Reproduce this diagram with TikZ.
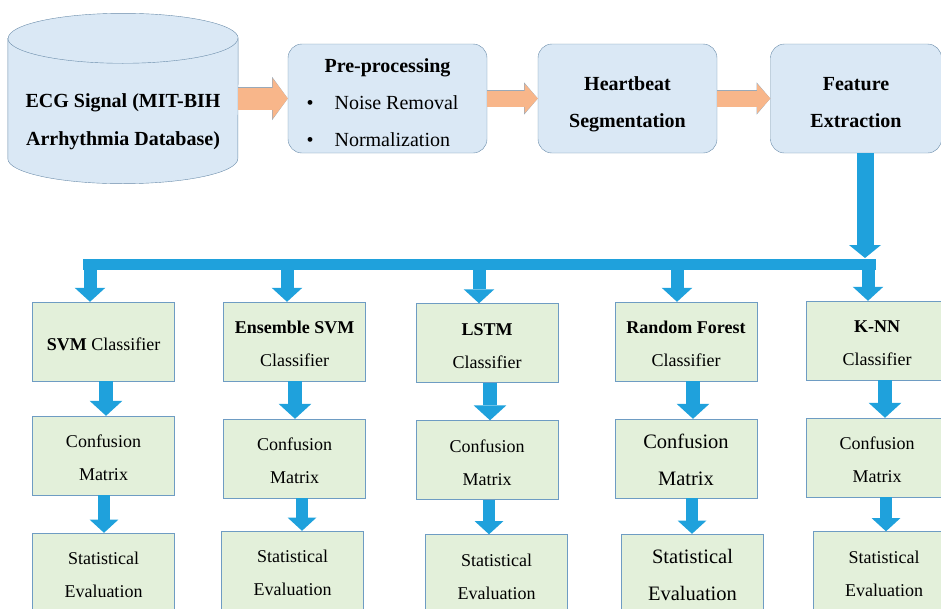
\documentclass[tikz,border=0pt]{standalone}
\usepackage{fontspec}
\setmainfont{Liberation Serif}
\usepackage[dvipsnames]{xcolor}
\usetikzlibrary{arrows.meta,backgrounds}

\definecolor{stagefill}{HTML}{DAE8F5}
\definecolor{stageline}{HTML}{6A8CAA}
\definecolor{clsfill}{HTML}{E3F0DA}
\definecolor{clsline}{HTML}{6E9CC3}
\definecolor{flowfill}{HTML}{F8B68A}
\definecolor{flowline}{HTML}{9AA9B8}
\definecolor{pipeblue}{HTML}{1FA1DC}

\begin{document}
\begin{tikzpicture}[x=1pt, y=-1pt, node distance=117pt,
    stage/.style={draw=stageline, fill=stagefill, rounded corners=14pt, minimum height=109pt, inner ysep=0pt, align=center, font=\fontsize{20}{37}\selectfont},
    clsbox/.style={draw=clsline, fill=clsfill, minimum width=142pt, minimum height=79pt, align=center, font=\fontsize{18}{33}\selectfont, text height=50pt, text depth=0pt},
    big/.style={font=\fontsize{20.5}{37}\selectfont, text height=54pt},
    flow/.style={line width=#1, -{Triangle[width=0pt 1.85, length=8pt 0.33, line width=0pt]}},
    fat/.style={line width=#1, draw=pipeblue, -{Triangle[width=6pt 1.9, length=3pt 0.85, line width=0pt]}}]
                \useasboundingbox (0,0) rectangle (941,608);

                % top row
                \node[minimum width=230pt, minimum height=170pt, label={[yshift=-23.5pt, align=center, font=\bfseries\fontsize{20}{38}\selectfont]center:{ECG Signal (MIT-BIH\\Arrhythmia Database)}}] (1) at (123,98.5) {};
                \node[stage, minimum width=199pt] (2) at (387.5,98.5) {\fontsize{20}{24}\selectfont
                    \raisebox{-2pt}[\height][\depth]{\begin{tabular}{@{}c@{\hspace{21pt}}l@{\hspace{10pt}}}
                    \multicolumn{2}{@{}c@{}}{\rule{0pt}{26pt}\textbf{Pre-processing}} \\[13pt]
                    \textbullet & Noise Removal \\[13pt]
                    \textbullet & Normalization
                \end{tabular}}};
                \node[stage, text height=57pt, text depth=0pt, minimum width=179pt, node distance=240pt, right of=2] (3) {\textbf{Heartbeat}\\\textbf{Segmentation}};
                \node[stage, text height=57pt, text depth=0pt, minimum width=171pt, node distance=228.5pt, right of=3] (4) {\textbf{Feature}\\\textbf{Extraction}};

                \begin{pgfonlayer}{background}
                    \filldraw[draw=stageline, fill=stagefill] ([yshift=-25pt]1.north west) -- ([yshift=25pt]1.south west)
                        arc[start angle=180, end angle=360, x radius=115pt, y radius=25pt]
                        -- ([yshift=-25pt]1.north east)
                        arc[start angle=0, end angle=180, x radius=115pt, y radius=25pt] -- cycle;
                    \draw[stageline] ([yshift=-25pt]1.north west) arc[start angle=180, end angle=360, x radius=115pt, y radius=25pt];
                \end{pgfonlayer}

                % classifiers
                \node[clsbox, text height=17pt] (5) at (103.5,341.5) {\textbf{SVM} Classifier};
                \node[clsbox, node distance=191pt, right of=5] (6) {\textbf{Ensemble SVM}\\Classifier};
                \node[clsbox, node distance=192.5pt, right of=6, yshift=-1.5pt] (7) {\textbf{LSTM}\\Classifier};
                \node[clsbox, node distance=199pt, right of=7, yshift=1.5pt] (8) {\textbf{Random Forest}\\Classifier};
                \node[clsbox, node distance=191pt, right of=8, yshift=1pt] (9) {\textbf{K-NN}\\Classifier};

                \node[clsbox, node distance=114pt, below of=5] (10) {Confusion\\Matrix};
                \node[clsbox, below of=6] (11) {Confusion\\Matrix};
                \node[clsbox, below of=7] (12) {Confusion\\Matrix};
                \node[clsbox, big, below of=8] (13) {Confusion\\Matrix};
                \node[clsbox, below of=9] (14) {Confusion\\Matrix};

                \node[clsbox, below of=10] (15) {Statistical\\Evaluation};
                \node[clsbox, node distance=112pt, below of=11, xshift=-2pt] (16) {Statistical\\Evaluation};
                \node[clsbox, node distance=114pt, below of=12, xshift=9.5pt] (17) {Statistical\\Evaluation};
                \node[clsbox, big, node distance=115pt, below of=13, xshift=6.5pt] (18) {Statistical\\Evaluation};
                \node[clsbox, node distance=113.5pt, below of=14, xshift=7pt] (19) {Statistical\\Evaluation};

                % orange arrows, rim first
                \path
                    (1) edge[flow=23.5pt, flowline] (2)
                    (2) edge[flow=17.5pt, flowline] (3)
                    (3) edge[flow=17.5pt, flowline] (4)
                ;
                \path
                    (1) edge[flow=22pt, flowfill] (2)
                    (2) edge[flow=16pt, flowfill] (3)
                    (3) edge[flow=16pt, flowfill] (4)
                ;

                % blue arrows
                \draw[fat=17pt, -{Triangle[width=32pt, length=13pt, line width=0pt]}] (4.south -| 865,0) -- (865,258);
                \draw[pipeblue, line width=11pt] (876,264.5) -- (83,264.5);
                \foreach \n/\x in {5/90, 6/287, 7/479, 8/677, 9/868}
                    \draw[fat=13pt] (\x,264.5) -- (\n.north -| \x,0);
                \foreach \a/\b/\x in {5/10/106, 6/11/295, 7/12/490, 8/13/693, 9/14/885}
                    \draw[fat=14pt] (\a.south -| \x,0) -- (\b.north -| \x,0);
                \foreach \a/\b/\x in {10/15/104, 11/16/302, 12/17/489, 13/18/692, 14/19/886}
                    \draw[fat=12pt] (\a.south -| \x,0) -- (\b.north -| \x,0);
            \end{tikzpicture}
\end{document}
